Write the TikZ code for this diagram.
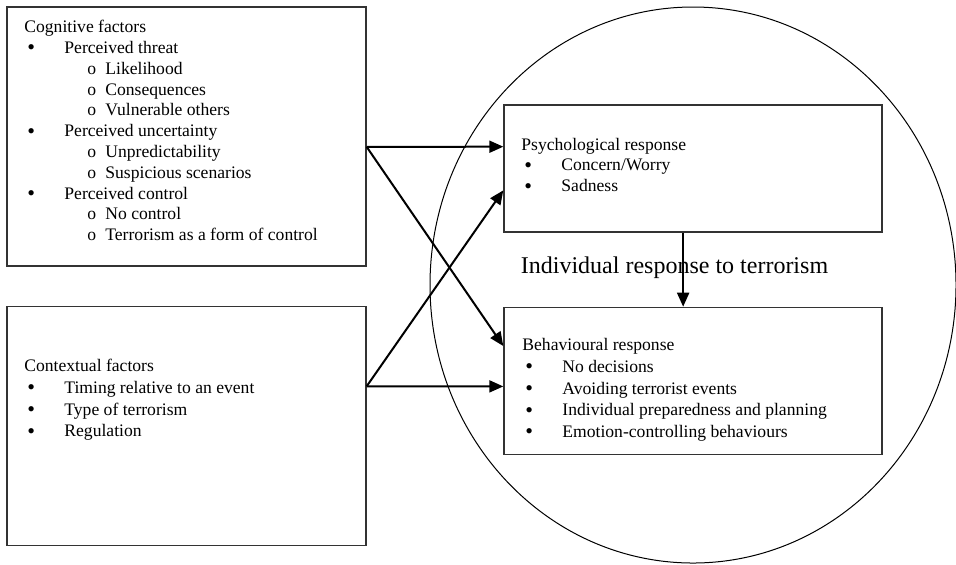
\documentclass[tikz,border=0pt]{standalone}
\usepackage{fontspec}
\setmainfont{Liberation Serif}
\usetikzlibrary{positioning, calc, arrows.meta}

\newcommand{\bul}[1]{\hspace*{1.5pt}\makebox[18.5pt][l]{\raisebox{-0.7pt}[0pt][0pt]{\fontsize{11}{11}\selectfont\textbullet}}#1}
\newcommand{\subbul}[1]{\hspace*{31.5pt}\makebox[9pt][l]{o}#1}

\begin{document}
\begin{tikzpicture}[x=0.5pt, y=-0.5pt,
        box/.style={draw=black!80, line width=0.7pt, inner sep=0pt},
        factor/.style={box, minimum width=179.5pt},
        response/.style={box, minimum width=189pt},
        txt/.style={align=left, inner sep=0pt, anchor=base west, font=\fontsize{8.8}{10.4}\selectfont},
        wide/.style={txt, font=\fontsize{8.8}{10.85}\selectfont},
        link/.style={-{Triangle[length=7pt, width=6pt]}, line width=1pt},
    ]
        \useasboundingbox (0,0) rectangle (956,564);

        % the individual
        \draw[line width=0.5pt] (693,285) ellipse [x radius=131.5pt, y radius=139pt];

        \node[factor, minimum height=129.5pt]                   (cog) at (186.5,136.5) {};
        \node[factor, minimum height=119.5pt, below=19.5pt of cog] (ctx) {};
        \node[response, minimum height=63.5pt]                  (psy) at (693,168.5) {};
        \node[response, minimum height=73.5pt, below=37pt of psy]  (beh) {};

        % base = baseline of the last line
        \node[txt] (cogtxt) at (24,240.7) {Cognitive factors\\
            \bul{Perceived threat}\\
            \subbul{Likelihood}\\
            \subbul{Consequences}\\
            \subbul{Vulnerable others}\\
            \bul{Perceived uncertainty}\\
            \subbul{Unpredictability}\\
            \subbul{Suspicious scenarios}\\
            \bul{Perceived control}\\
            \subbul{No control}\\
            \subbul{Terrorism as a form of control}};
        \node[wide] (ctxtxt) at (24,436.7) {Contextual factors\\
            \bul{Timing relative to an event}\\
            \bul{Type of terrorism}\\
            \bul{Regulation}};
        \node[txt] (psytxt) at (521,191.7) {Psychological response\\
            \bul{Concern/Worry}\\
            \bul{Sadness}};
        \node[wide] (behtxt) at (522,437.5) {Behavioural response\\
            \bul{No decisions}\\
            \bul{Avoiding terrorist events}\\
            \bul{Individual preparedness and planning}\\
            \bul{Emotion-controlling behaviours}};

        \node[anchor=base, inner sep=0pt, font=\fontsize{12}{14}\selectfont] (lbl) at (674.5,273)
            {Individual response to terrorism};

        \draw[link] ($(cog.north east)!0.54!(cog.south east)$) -- ($(psy.north west)!0.33!(psy.south west)$);
        \draw[link] ($(cog.north east)!0.54!(cog.south east)$) -- ($(beh.north west)!0.265!(beh.south west)$);
        \draw[link] ($(ctx.north east)!0.335!(ctx.south east)$) -- ($(psy.north west)!0.67!(psy.south west)$);
        \draw[link] ($(ctx.north east)!0.335!(ctx.south east)$) -- ($(beh.north west)!0.537!(beh.south west)$);
        \draw[link] ($(psy.south west)!0.474!(psy.south east)$) -- ($(beh.north west)!0.474!(beh.north east)$);
\end{tikzpicture}
\end{document}
